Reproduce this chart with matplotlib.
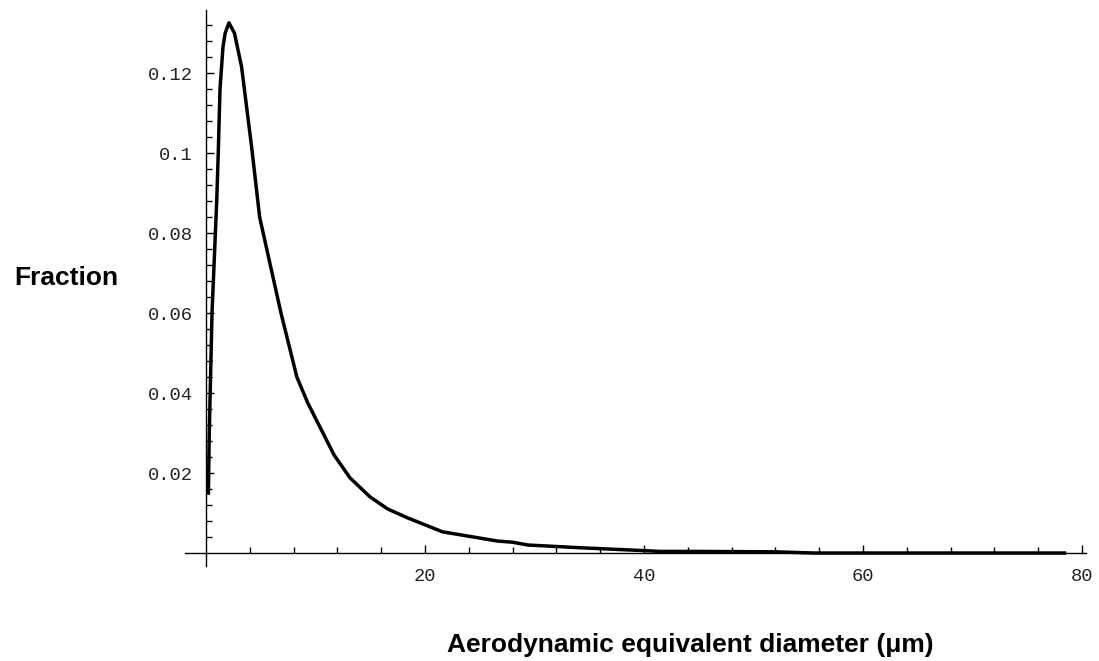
import matplotlib
matplotlib.use('Agg')
import matplotlib.pyplot as plt
from matplotlib.ticker import FixedLocator

# size distribution
diam = [0.22, 0.30, 0.55, 0.98, 1.12, 1.28, 1.55, 1.75, 2.1, 2.6, 3.25, 4.2, 4.9,
        6.85, 8.3, 9.3, 11.7, 13.15, 15.0, 16.6, 18.4, 21.6, 24.0, 26.6, 28.0,
        29.4, 34.3, 40.0, 41.5, 45.0, 52.0, 55.5, 60.0, 70.0, 78.4]
frac = [0.015, 0.03, 0.06, 0.088, 0.100, 0.116, 0.1265, 0.130, 0.1326, 0.130,
        0.1216, 0.1008, 0.084, 0.060, 0.044, 0.0375, 0.0245, 0.0188, 0.014,
        0.011, 0.0088, 0.0053, 0.0042, 0.003, 0.0027, 0.002, 0.0013, 0.0006,
        0.0004, 0.0004, 0.0003, 0.0, 0.0, 0.0, 0.0]

xticks = [20, 40, 60, 80]
yticks = [0.02, 0.04, 0.06, 0.08, 0.1, 0.12]
ylabels = ['0.02', '0.04', '0.06', '0.08', '0.1', '0.12']

fig = plt.figure(figsize=(10.99, 6.61), dpi=100)
ax = fig.add_axes([0.1685, 0.1434, 0.820, 0.8415])

ax.plot(diam, frac, color='black', lw=2.5, solid_joinstyle='round')

ax.set_xlim(-1.9, 80.4)
ax.set_ylim(-0.0033, 0.1358)

# axes crossing at the origin, Mathematica style
ax.spines['left'].set_position(('data', 0))
ax.spines['bottom'].set_position(('data', 0))
ax.spines['top'].set_visible(False)
ax.spines['right'].set_visible(False)
for s in ('left', 'bottom'):
    ax.spines[s].set_linewidth(1.0)

ax.xaxis.set_major_locator(FixedLocator(xticks))
ax.xaxis.set_minor_locator(FixedLocator([v for v in range(4, 80, 4) if v % 20]))
ax.yaxis.set_major_locator(FixedLocator(yticks))
ax.yaxis.set_minor_locator(FixedLocator([i * 0.004 for i in range(1, 34) if i % 5]))
ax.set_yticklabels(ylabels)

ax.tick_params(which='both', direction='in', width=1.0, color='black')
ax.tick_params(which='major', length=6)
ax.tick_params(which='minor', length=4)
ax.tick_params(axis='y', pad=9.5)
ax.tick_params(axis='x', pad=11)
for lab in ax.get_xticklabels() + ax.get_yticklabels():
    lab.set_fontfamily('Liberation Mono')
    lab.set_fontsize(13.5)
    lab.set_color('#222222')

fig.text(66 / 1099, 1 - 278 / 661, 'Fraction', ha='center', va='center',
         fontfamily='Liberation Sans', fontweight='bold', fontsize=19)
fig.text(690 / 1099, 1 - 645 / 661, 'Aerodynamic equivalent diameter (\u03bcm)',
         ha='center', va='center', fontfamily='Liberation Sans',
         fontweight='bold', fontsize=19)

fig.savefig('out.png', dpi=100)
